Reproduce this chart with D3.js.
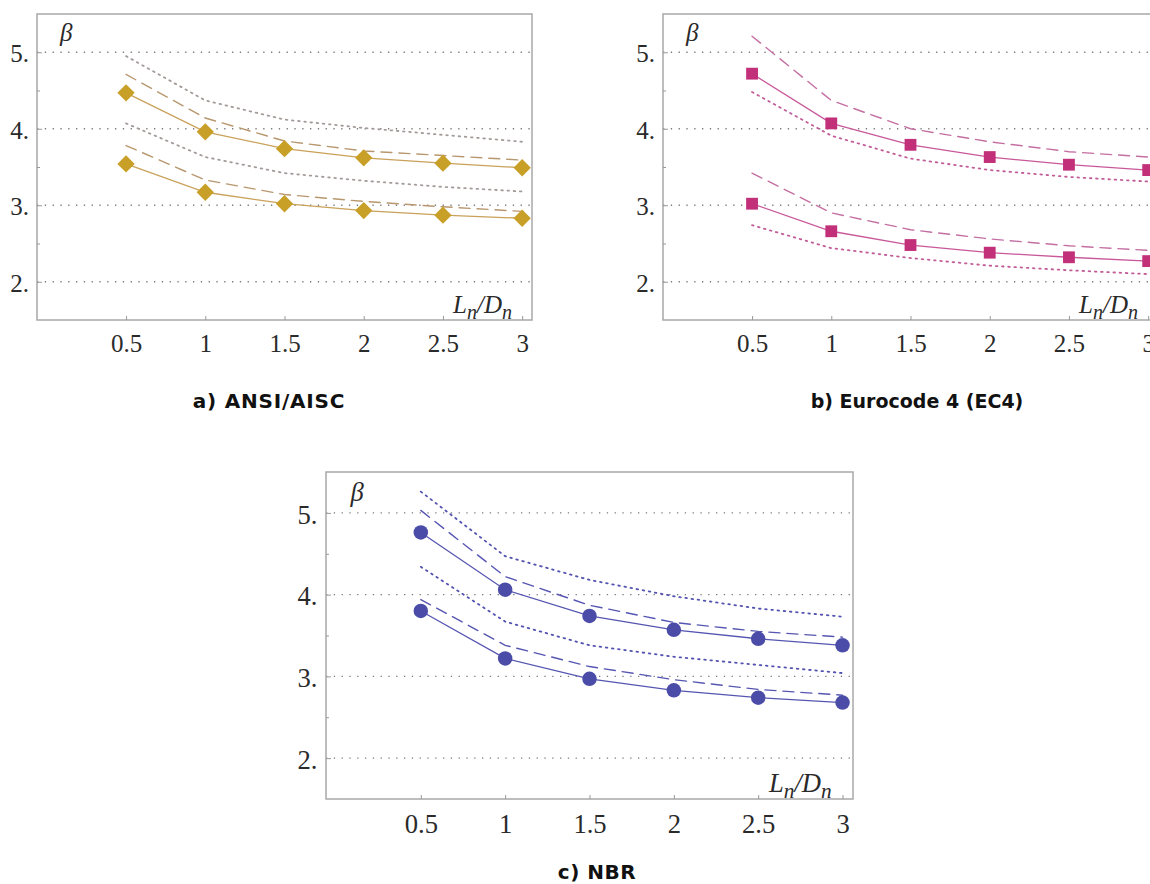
<!DOCTYPE html>
<html>
<head>
<meta charset="utf-8">
<script src="https://cdn.jsdelivr.net/npm/d3@7"></script>
<style>
  body { margin: 0; background: #fff; }
  svg { display: block; }
</style>
</head>
<body>
<svg id="chart" width="1150" height="884"></svg>
<script>
// x categories (Ln/Dn) and tick values
const lnDn = [0.5, 1, 1.5, 2, 2.5, 3];
const yTicks = [2, 3, 4, 5];
const yMinor = [2.5, 3.5, 4.5];

// a) ANSI/AISC
const aUpperSolid  = [4.47, 3.96, 3.74, 3.62, 3.55, 3.49];
const aUpperDashed = [4.71, 4.14, 3.84, 3.71, 3.65, 3.59];
const aUpperDotted = [4.95, 4.37, 4.12, 4.01, 3.92, 3.83];
const aLowerSolid  = [3.54, 3.17, 3.02, 2.93, 2.87, 2.83];
const aLowerDashed = [3.78, 3.33, 3.14, 3.05, 2.98, 2.92];
const aLowerDotted = [4.07, 3.63, 3.42, 3.32, 3.24, 3.18];

// b) Eurocode 4
const bUpperSolid  = [4.72, 4.07, 3.79, 3.63, 3.53, 3.46];
const bUpperDashed = [5.21, 4.37, 4.00, 3.83, 3.70, 3.63];
const bUpperDotted = [4.48, 3.91, 3.61, 3.46, 3.37, 3.31];
const bLowerSolid  = [3.02, 2.66, 2.48, 2.38, 2.32, 2.27];
const bLowerDashed = [3.42, 2.90, 2.68, 2.56, 2.47, 2.41];
const bLowerDotted = [2.74, 2.44, 2.31, 2.21, 2.15, 2.10];

// c) NBR
const cUpperSolid  = [4.76, 4.06, 3.74, 3.57, 3.46, 3.38];
const cUpperDashed = [5.03, 4.22, 3.87, 3.66, 3.55, 3.48];
const cUpperDotted = [5.26, 4.47, 4.18, 3.98, 3.83, 3.73];
const cLowerSolid  = [3.80, 3.22, 2.97, 2.83, 2.74, 2.68];
const cLowerDashed = [3.94, 3.38, 3.12, 2.96, 2.84, 2.77];
const cLowerDotted = [4.34, 3.67, 3.38, 3.24, 3.14, 3.04];

const svg = d3.select("#chart");

function drawPanel(p) {
  const s = p.scale;
  const g = svg.append("g").attr("transform", "translate(" + p.left + "," + p.top + ")");
  const x = d3.scaleLinear().domain([-0.062, 3.062]).range([0, p.width]);
  const y = d3.scaleLinear().domain([1.5, 5.5]).range([p.height, 0]);

  // dotted grid lines
  g.selectAll(".grid").data(yTicks).enter().append("line")
    .attr("x1", 0).attr("x2", p.width)
    .attr("y1", d => y(d)).attr("y2", d => y(d))
    .attr("stroke", "#7a7a7a").attr("stroke-width", 1.3)
    .attr("stroke-dasharray", "1.3,6.5");

  // frame
  g.append("rect").attr("width", p.width).attr("height", p.height)
    .attr("fill", "none").attr("stroke", "#a8a8a8").attr("stroke-width", 1.5);

  const yAxis = g.append("g")
    .call(d3.axisLeft(y).tickValues(yTicks).tickFormat(d => d + ".").tickSize(-5).tickPadding(8 * s));
  g.append("g").call(d3.axisLeft(y).tickValues(yMinor).tickFormat("").tickSize(-3));
  g.append("g").attr("transform", "translate(0," + p.height + ")")
    .call(d3.axisBottom(x).tickValues(lnDn).tickFormat(d3.format("")).tickSize(-4).tickPadding(14 * s));

  g.selectAll(".domain").remove();
  g.selectAll(".tick line").attr("stroke", "#999");
  g.selectAll(".tick text")
    .attr("font-family", "'Liberation Serif', 'DejaVu Serif', serif")
    .attr("font-size", 25 * s).attr("fill", "#2a2a2a");
  yAxis.selectAll(".tick text").attr("dy", "0.38em");

  const line = d3.line().x((d, i) => x(lnDn[i])).y(d => y(d));
  const series = [
    { v: p.upperDotted, dash: "1.6,4.6", col: p.dotCol, w: 1.8 },
    { v: p.lowerDotted, dash: "1.6,4.6", col: p.dotCol, w: 1.8 },
    { v: p.upperDashed, dash: "11,7", col: p.dashCol, w: 1.4 },
    { v: p.lowerDashed, dash: "11,7", col: p.dashCol, w: 1.4 },
    { v: p.upperSolid, dash: null, col: p.lineCol, w: 1.3 },
    { v: p.lowerSolid, dash: null, col: p.lineCol, w: 1.3 }
  ];
  g.selectAll(".series").data(series).enter().append("path")
    .attr("d", d => line(d.v))
    .attr("fill", "none")
    .attr("stroke", d => d.col)
    .attr("stroke-width", d => d.w)
    .attr("stroke-linecap", "round")
    .attr("stroke-dasharray", d => d.dash);

  const pts = [];
  [p.upperSolid, p.lowerSolid].forEach(arr => arr.forEach((v, i) => pts.push([lnDn[i], v])));
  const sym = d3.symbol().type(p.shape).size(p.markSize);
  g.selectAll(".mark").data(pts).enter().append("path")
    .attr("d", sym)
    .attr("transform", d => "translate(" + x(d[0]) + "," + y(d[1]) + ")" + (p.rotate ? " rotate(45)" : ""))
    .attr("fill", p.markCol);

  // beta label
  g.append("text").attr("x", 23 * s).attr("y", 27 * s)
    .attr("font-family", "'Liberation Serif', serif").attr("font-style", "italic")
    .attr("font-size", 25 * s).attr("fill", "#2a2a2a").text("β");

  // Ln/Dn label
  const t = g.append("text").attr("x", p.width - 20 * s).attr("y", p.height - 7 * s)
    .attr("text-anchor", "end")
    .attr("font-family", "'Liberation Serif', serif").attr("font-style", "italic")
    .attr("font-size", 25 * s).attr("fill", "#2a2a2a");
  t.append("tspan").text("L");
  t.append("tspan").attr("dy", 6 * s).attr("font-size", 20 * s).text("n");
  t.append("tspan").attr("dy", -6 * s).text("/D");
  t.append("tspan").attr("dy", 6 * s).attr("font-size", 20 * s).text("n");

  svg.append("text").attr("x", p.capX).attr("y", p.capY)
    .attr("text-anchor", "middle")
    .attr("font-family", "'DejaVu Sans', sans-serif").attr("font-weight", "bold")
    .attr("font-size", p.capSize).attr("letter-spacing", p.capSpacing).attr("fill", "#111")
    .text(p.caption);
}

drawPanel({
  left: 37, top: 14, width: 495, height: 306, scale: 1,
  upperSolid: aUpperSolid, upperDashed: aUpperDashed, upperDotted: aUpperDotted,
  lowerSolid: aLowerSolid, lowerDashed: aLowerDashed, lowerDotted: aLowerDotted,
  lineCol: "#c9a15a", dashCol: "#b8976e", dotCol: "#a39b98", markCol: "#c8a028",
  shape: d3.symbolSquare, markSize: 150, rotate: true,
  caption: "a) ANSI/AISC", capX: 269, capY: 408, capSize: 20, capSpacing: 0.8
});

drawPanel({
  left: 663, top: 14, width: 495, height: 306, scale: 1,
  upperSolid: bUpperSolid, upperDashed: bUpperDashed, upperDotted: bUpperDotted,
  lowerSolid: bLowerSolid, lowerDashed: bLowerDashed, lowerDotted: bLowerDotted,
  lineCol: "#c8589a", dashCol: "#c46ea2", dotCol: "#c25c98", markCol: "#c2307a",
  shape: d3.symbolSquare, markSize: 140, rotate: false,
  caption: "b) Eurocode 4 (EC4)", capX: 917, capY: 408, capSize: 19, capSpacing: 0
});

drawPanel({
  left: 326, top: 472, width: 527, height: 327, scale: 1.065,
  upperSolid: cUpperSolid, upperDashed: cUpperDashed, upperDotted: cUpperDotted,
  lowerSolid: cLowerSolid, lowerDashed: cLowerDashed, lowerDotted: cLowerDotted,
  lineCol: "#5656b2", dashCol: "#5656b2", dotCol: "#5252b0", markCol: "#4b4ba8",
  shape: d3.symbolCircle, markSize: 165, rotate: false,
  caption: "c) NBR", capX: 597, capY: 879, capSize: 20, capSpacing: 0.5
});
</script>
</body>
</html>
